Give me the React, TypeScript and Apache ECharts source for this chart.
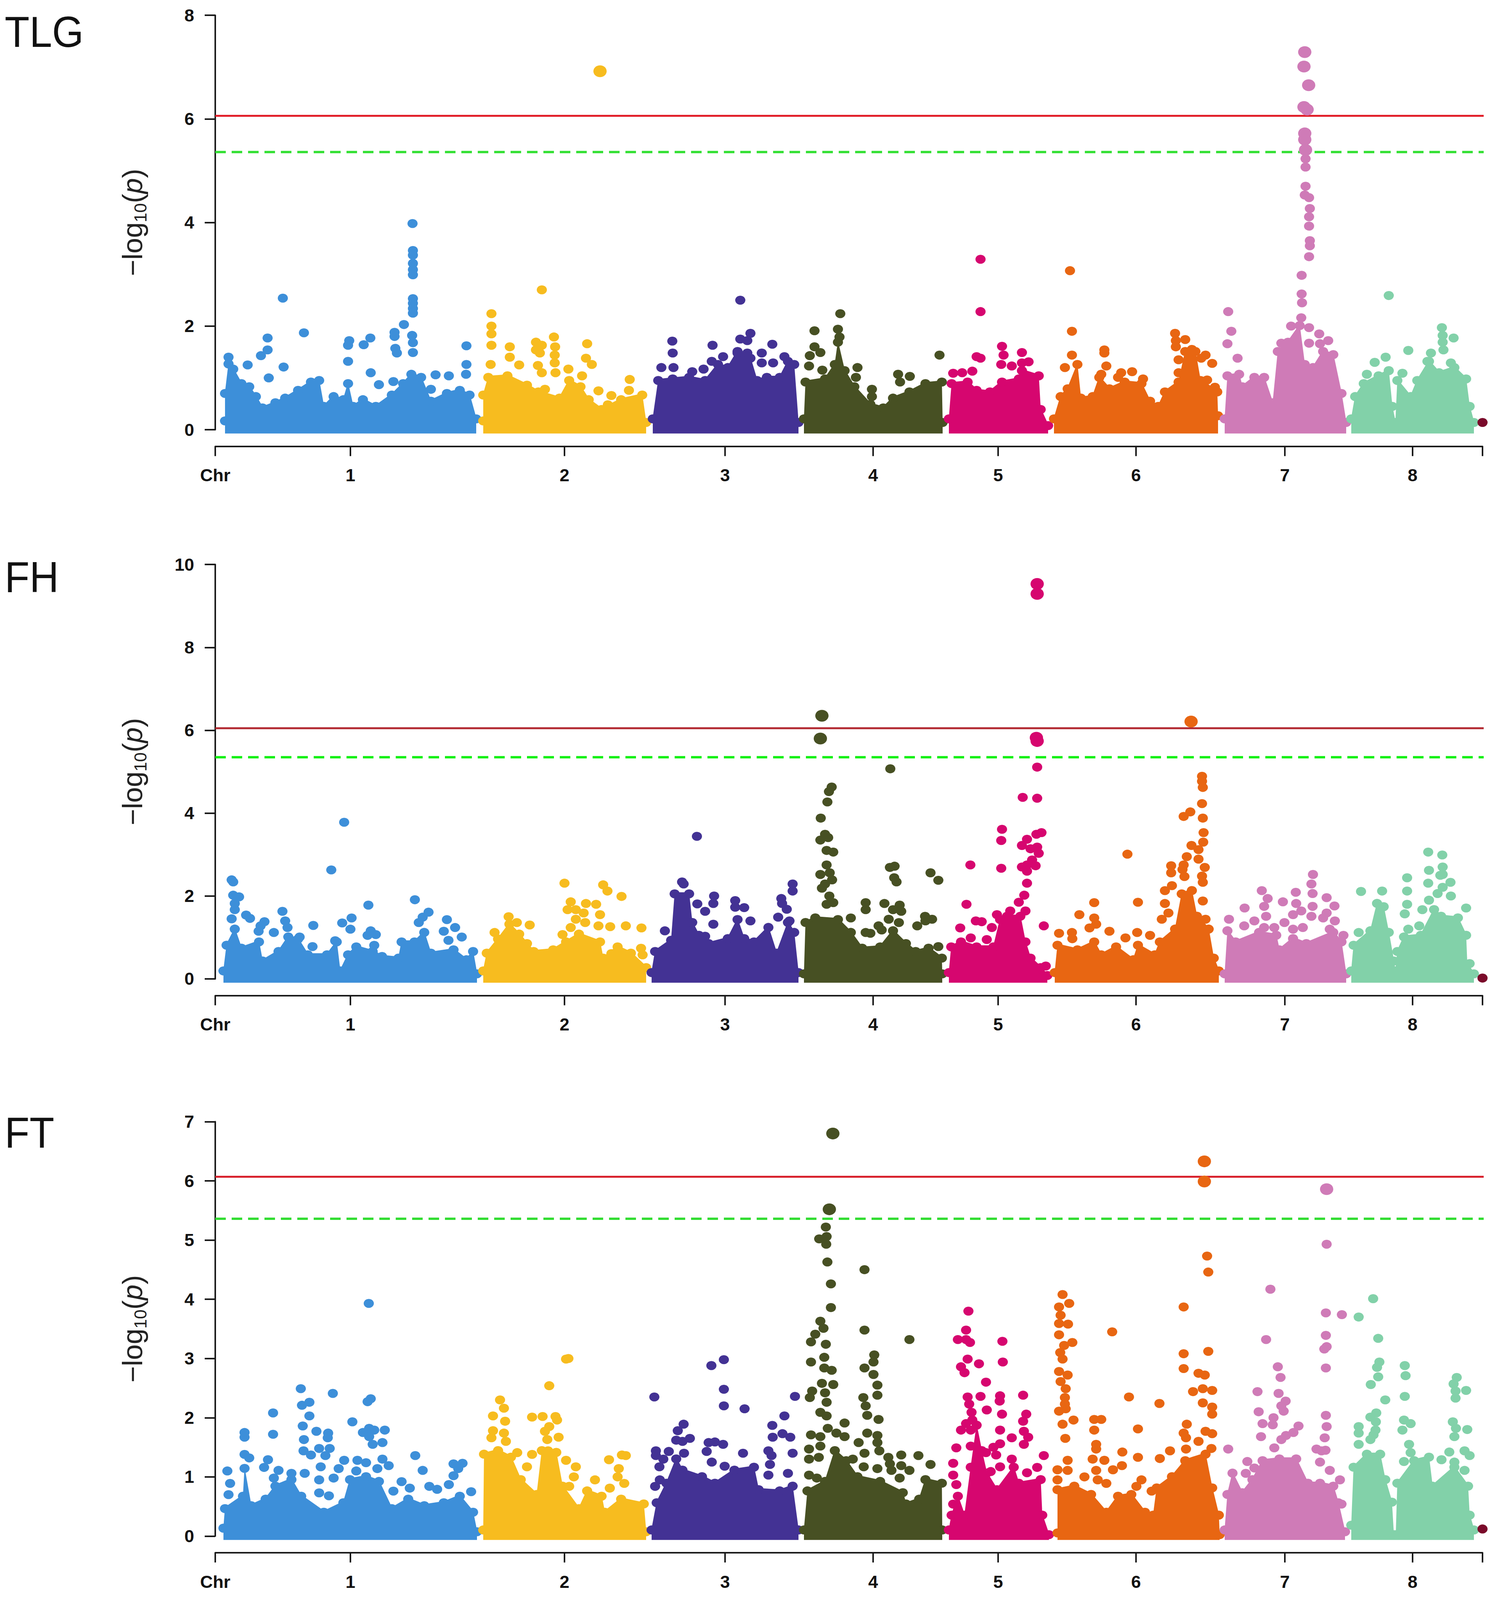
import { useEffect, useRef } from 'react';
import * as echarts from 'echarts';

type Pt = [number, number];

// x = position along the genome axis, y = -log10(p), both.
// "mass" traces the top of the solid block of overlapping SNPs per chromosome,
// "dots" are the separately visible SNPs above it.
const chrColors = ['#3d8fd9', '#f7bc1f', '#433294', '#475023', '#d6066f', '#e86612', '#cf7bb7', '#82d1a9', '#7a0a2a'];
const chrTicks = [0, 346, 894, 1305, 1684, 2004, 2357, 2738, 3065, 3244];
const chrLabels = ['Chr', '1', '2', '3', '4', '5', '6', '7', '8', ''];

const tlgMass: Pt[][] = [
  [[25, .2], [25, .73], [34, 1.3], [46, 1.2], [67, .92], [87, .86], [104, .67], [121, .45], [154, .55], [179, .64], [212, .79], [245, .95], [266, .98], [278, .48], [303, .67], [328, .61], [340, .92], [353, .48], [378, .61], [411, .48], [452, .7], [481, .92], [502, 1.1], [527, 1.04], [552, .58], [593, .73], [626, .79], [651, .7], [668, .24]],
  [[686, .2], [686, .7], [699, 1.04], [748, 1.07], [798, .89], [827, .76], [881, .64], [906, .98], [935, .86], [956, .61], [989, .42], [1039, .61], [1093, .7], [1103, .17]],
  [[1120, .24], [1134, .98], [1171, 1.01], [1213, 1.04], [1254, .98], [1287, 1.29], [1312, 1.23], [1337, 1.54], [1370, 1.41], [1387, .98], [1412, 1.04], [1445, 1.04], [1466, 1.35], [1482, 1.29], [1493, .17]],
  [[1507, .24], [1511, .95], [1561, 1.01], [1586, 1.29], [1594, 1.72], [1611, 1.17], [1636, .86], [1677, .52], [1710, .45], [1735, .64], [1777, .76], [1818, .92], [1860, .95], [1862, .17]],
  [[1878, .24], [1885, .92], [1926, .95], [1949, .79], [1983, .76], [2014, .95], [2057, 1.01], [2065, 1.17], [2108, 1.07], [2113, .42], [2132, .11]],
  [[2147, .24], [2164, .67], [2182, .82], [2207, 1.29], [2216, .64], [2246, .67], [2263, 1.04], [2289, .82], [2328, .95], [2371, .92], [2393, .58], [2414, .48], [2431, .76], [2466, .95], [2483, 1.54], [2509, 1.54], [2522, .98], [2565, .76], [2567, .3]],
  [[2584, .24], [2591, 1.07], [2621, 1.1], [2629, .86], [2660, 1.04], [2685, 1.04], [2707, .55], [2720, 1.54], [2746, 1.72], [2776, 2.04], [2789, 1.29], [2810, 1.23], [2836, 1.54], [2862, 1.48], [2883, .73], [2895, .17]],
  [[2908, .24], [2918, .67], [2940, .92], [2978, 1.07], [3004, 1.17], [3013, .48], [3021, .17], [3026, .98], [3060, .67], [3077, .98], [3107, 1.35], [3133, 1.13], [3172, 1.23], [3202, 1.01], [3211, .48], [3222, .17]],
];
const tlgDots: Pt[][] = [
  [[505, 3.98], [506, 3.46], [506, 3.37], [506, 3.21], [506, 3.09], [506, 2.99], [506, 2.53], [506, 2.44], [506, 2.34], [506, 2.25], [483, 2.03], [173, 2.54], [227, 1.87], [134, 1.77], [134, 1.54], [117, 1.43], [175, 1.21], [137, 1.0], [343, 1.72], [340, 1.63], [340, 1.32], [380, 1.64], [397, 1.77], [459, 1.88], [459, 1.8], [461, 1.57], [465, 1.48], [504, 1.82], [506, 1.68], [506, 1.49], [643, 1.62], [643, 1.26], [642, 1.07], [419, .87], [564, 1.06], [83, 1.25], [34, 1.4], [398, 1.1], [456, .93], [552, .78], [598, 1.04]],
  [[985, 6.92], [836, 2.7], [707, 2.24], [707, 2.0], [707, 1.85], [707, 1.63], [754, 1.6], [754, 1.4], [821, 1.69], [836, 1.63], [821, 1.54], [831, 1.48], [867, 1.79], [870, 1.6], [869, 1.44], [869, 1.29], [952, 1.66], [949, 1.38], [964, 1.26], [778, 1.25], [826, 1.24], [904, 1.17], [836, 1.1], [871, 1.1], [1061, .97], [1059, .76], [705, 1.26], [939, 1.04], [844, .78], [981, .75], [1014, .66], [1005, .48]],
  [[1344, 2.5], [1170, 1.71], [1171, 1.48], [1142, 1.2], [1173, 1.2], [1273, 1.63], [1370, 1.86], [1344, 1.75], [1362, 1.72], [1426, 1.65], [1337, 1.48], [1399, 1.48], [1300, 1.41], [1362, 1.48], [1271, 1.32], [1457, 1.41], [1399, 1.29], [1428, 1.29], [1221, 1.12], [1250, 1.17]],
  [[1600, 2.24], [1534, 1.91], [1594, 1.94], [1598, 1.79], [1534, 1.6], [1549, 1.49], [1522, 1.43], [1520, 1.23], [1854, 1.44], [1748, 1.07], [1753, .92], [1778, 1.03], [1681, .78], [1681, .64], [1554, 1.15], [1640, 1.01], [1644, 1.2]],
  [[1959, 3.29], [1959, 2.28], [2014, 1.61], [2018, 1.44], [2012, 1.26], [2065, 1.49], [2065, 1.29], [2082, 1.31], [2039, 1.23], [1959, 1.38], [1889, 1.09], [1912, 1.1], [1938, 1.13], [1949, 1.41]],
  [[2188, 3.07], [2193, 1.9], [2193, 1.44], [2276, 1.54], [2276, 1.48], [2175, 1.2], [2457, 1.86], [2459, 1.72], [2483, 1.74], [2459, 1.6], [2466, 1.35], [2500, 1.55], [2535, 1.44], [2524, 1.38], [2552, 1.28], [2347, 1.12], [2319, 1.1], [2311, 1.01], [2281, 1.23], [2268, 1.07], [2375, .98], [2539, .96], [2559, .82], [2466, 1.1]],
  [[2789, 7.29], [2787, 7.01], [2799, 6.65], [2787, 6.23], [2795, 6.18], [2789, 5.72], [2789, 5.6], [2791, 5.4], [2791, 5.23], [2791, 5.07], [2791, 4.7], [2789, 4.53], [2800, 4.48], [2802, 4.27], [2800, 4.11], [2800, 3.93], [2802, 3.65], [2802, 3.55], [2800, 3.34], [2781, 2.98], [2781, 2.62], [2782, 2.45], [2780, 2.16], [2754, 2.0], [2593, 2.28], [2601, 1.9], [2591, 1.66], [2617, 1.38], [2800, 1.97], [2826, 1.85], [2800, 1.67], [2729, 1.67], [2849, 1.72], [2828, 1.66]],
  [[3004, 2.59], [3140, 1.97], [3142, 1.82], [3142, 1.69], [3170, 1.77], [3054, 1.53], [3144, 1.54], [3112, 1.48], [2996, 1.4], [2968, 1.3], [3163, 1.29], [3103, 1.32], [3039, 1.09], [2948, 1.07]],
  [[3244, .14]],
];

const fhMass: Pt[][] = [
  [[21, .23], [29, .85], [50, 1.24], [67, .78], [112, .93], [121, .47], [162, .7], [187, 1.05], [212, 1.0], [237, .62], [286, .62], [311, .93], [320, .23], [340, .62], [361, .81], [403, .7], [427, .58], [469, .54], [477, .93], [510, .93], [535, 1.16], [552, .66], [610, .74], [643, .5], [660, .7], [670, .16]],
  [[686, .23], [695, .66], [724, 1.0], [753, 1.36], [778, 1.12], [798, .89], [815, .7], [865, .74], [898, .93], [931, 1.12], [985, .93], [993, .54], [1030, .81], [1064, .66], [1103, .31]],
  [[1117, .19], [1126, .7], [1167, .97], [1176, 2.09], [1213, 2.09], [1221, 1.4], [1238, 1.09], [1263, .89], [1312, 1.01], [1337, 1.47], [1354, 1.01], [1379, .93], [1416, 1.28], [1437, .66], [1466, 1.4], [1482, 1.16], [1493, .19]],
  [[1507, .16], [1511, 1.4], [1536, 1.51], [1594, 1.47], [1627, 1.16], [1656, .78], [1702, .81], [1735, 1.2], [1768, .89], [1793, .7], [1826, .78], [1860, .54], [1861, .16]],
  [[1878, .19], [1884, .81], [1909, .93], [1949, .81], [1992, .81], [2009, 1.47], [2027, 1.55], [2061, 1.55], [2074, .93], [2087, .54], [2113, .31], [2130, .12]],
  [[2149, .19], [2156, .85], [2207, .74], [2250, .93], [2268, .62], [2306, .81], [2350, .5], [2362, .85], [2405, .62], [2418, .93], [2457, 1.24], [2474, 2.09], [2500, 2.17], [2513, 1.55], [2543, 1.24], [2556, .54], [2569, .23]],
  [[2584, .16], [2591, 1.2], [2612, .93], [2672, 1.16], [2716, 1.09], [2724, .74], [2759, 1.01], [2793, .89], [2862, 1.16], [2883, .93], [2895, .16]],
  [[2908, .23], [2914, .85], [2957, 1.2], [2974, 1.86], [2991, 1.78], [3004, 1.16], [3017, .47], [3021, .23], [3026, .7], [3043, 1.05], [3086, 1.09], [3120, 1.71], [3138, 1.55], [3181, 1.51], [3202, 1.09], [3205, .39], [3222, .16]],
];
const fhDots: Pt[][] = [
  [[330, 3.78], [297, 2.63], [42, 2.39], [46, 2.34], [46, 2.02], [61, 1.98], [50, 1.82], [50, 1.67], [511, 1.91], [392, 1.78], [42, 1.45], [79, 1.54], [89, 1.46], [172, 1.63], [179, 1.4], [185, 1.24], [126, 1.38], [116, 1.28], [111, 1.15], [150, 1.12], [251, 1.29], [325, 1.35], [349, 1.47], [346, 1.2], [546, 1.61], [531, 1.49], [521, 1.36], [593, 1.43], [614, 1.24], [585, 1.15], [631, 1.01], [390, 1.05], [398, 1.16], [411, 1.07], [407, .81], [307, .92], [216, 1.01], [249, .78], [597, .93]],
  [[894, 2.31], [993, 2.27], [1004, 2.12], [1040, 1.99], [910, 1.86], [949, 1.82], [975, 1.8], [902, 1.67], [923, 1.67], [943, 1.59], [985, 1.55], [923, 1.44], [947, 1.36], [981, 1.28], [1011, 1.26], [1051, 1.28], [1091, 1.23], [805, 1.3], [751, 1.5], [772, 1.36], [715, 1.12], [910, 1.24], [889, 1.07], [1014, .61], [1090, .74], [1094, .58]],
  [[1233, 3.44], [1195, 2.34], [1199, 2.29], [1478, 2.29], [1478, 2.12], [1277, 2.0], [1275, 1.82], [1331, 1.89], [1331, 1.73], [1354, 1.72], [1449, 1.94], [1451, 1.82], [1463, 1.68], [1234, 1.81], [1254, 1.63], [1151, 1.16], [1370, 1.4], [1275, 1.32], [1470, 1.4], [1254, 1.03], [1441, 1.49]],
  [[1553, 6.35], [1549, 5.8], [1728, 5.07], [1578, 4.63], [1571, 4.52], [1567, 4.27], [1550, 3.88], [1561, 3.49], [1569, 3.41], [1549, 3.35], [1565, 3.1], [1582, 3.06], [1565, 2.75], [1549, 2.52], [1573, 2.56], [1579, 2.39], [1561, 2.29], [1553, 2.19], [1572, 2.0], [1582, 1.84], [1565, 1.8], [1739, 2.72], [1727, 2.69], [1738, 2.44], [1744, 2.34], [1831, 2.56], [1851, 2.38], [1665, 1.84], [1665, 1.67], [1713, 1.82], [1752, 1.78], [1735, 1.67], [1756, 1.63], [1627, 1.47], [1724, 1.44], [1750, 1.36], [1817, 1.51], [1835, 1.44], [1797, 1.28], [1818, 1.4], [1698, 1.28], [1706, 1.18], [1665, 1.12], [1677, 1.1], [1851, .78]],
  [[1933, 2.75], [1923, 1.8], [1947, 1.4], [1907, 1.23], [1934, .99], [2104, 9.53], [2104, 9.29], [2102, 5.82], [2104, 5.74], [2104, 5.11], [2067, 4.38], [2104, 4.36], [2014, 3.61], [2115, 3.53], [2102, 3.49], [2012, 3.34], [2078, 3.37], [2065, 3.22], [2104, 3.18], [2087, 3.14], [2108, 3.03], [2091, 2.87], [2078, 2.75], [2065, 2.7], [2012, 2.67], [2100, 2.73], [2078, 2.6], [2078, 2.31], [2071, 2.02], [2057, 1.85], [2074, 1.64], [2035, 1.64], [2001, 1.55], [2121, 1.28], [1962, 1.38], [1988, 1.24], [2126, .31], [1975, .95], [2102, .04]],
  [[2498, 6.21], [2526, 4.89], [2526, 4.77], [2528, 4.62], [2526, 4.23], [2496, 4.03], [2479, 3.92], [2528, 3.88], [2530, 3.53], [2529, 3.3], [2499, 3.22], [2517, 3.12], [2335, 3.01], [2487, 2.95], [2517, 2.89], [2447, 2.73], [2447, 2.56], [2479, 2.75], [2476, 2.64], [2533, 2.69], [2526, 2.48], [2528, 2.33], [2481, 2.47], [2449, 2.25], [2431, 2.13], [2362, 1.85], [2528, 1.88], [2250, 1.84], [2431, 1.82], [2212, 1.55], [2250, 1.47], [2255, 1.32], [2238, 1.23], [2289, 1.15], [2360, 1.12], [2330, .99], [2193, 1.12], [2194, .97], [2160, 1.1], [2393, 1.05], [2535, 1.44], [2423, 1.44], [2440, 1.59]],
  [[2810, 2.52], [2806, 2.29], [2809, 2.06], [2679, 2.13], [2766, 2.09], [2694, 1.94], [2845, 1.96], [2635, 1.71], [2733, 1.86], [2767, 1.82], [2685, 1.75], [2865, 1.76], [2809, 1.75], [2806, 1.51], [2845, 1.59], [2836, 1.47], [2780, 1.64], [2759, 1.55], [2737, 1.36], [2595, 1.44], [2866, 1.4], [2690, 1.51], [2660, 1.4], [2634, 1.28], [2711, 1.24], [2784, 1.24], [2853, 1.2], [2888, 1.05], [2685, 1.24], [2759, 1.2]],
  [[3105, 3.06], [3141, 2.99], [3142, 2.7], [3107, 2.62], [3142, 2.52], [3136, 2.5], [3051, 2.44], [3105, 2.31], [3162, 2.33], [2933, 2.11], [2987, 2.12], [3051, 2.12], [3142, 2.21], [3129, 2.06], [3051, 1.8], [3045, 1.57], [3090, 1.67], [3202, 1.71], [3163, 2.0], [3107, 1.9], [3054, 1.2], [3082, 1.28], [2927, 1.12], [3211, .37]],
  [[3244, .02]],
];

const ftMass: Pt[][] = [
  [[21, .16], [25, .49], [71, .7], [75, 1.17], [92, .54], [129, .65], [154, .87], [195, .98], [220, .7], [278, .43], [328, .59], [345, .98], [386, 1.03], [419, .95], [452, .49], [494, .65], [535, .54], [585, .59], [626, .7], [660, .43], [670, .1]],
  [[686, .13], [688, 1.41], [724, 1.47], [757, 1.36], [782, .98], [823, .73], [836, 1.47], [873, 1.44], [889, .87], [931, .49], [952, .79], [989, .7], [997, .43], [1039, .65], [1097, .57], [1103, .1]],
  [[1117, .13], [1130, .59], [1155, .92], [1180, 1.33], [1196, 1.14], [1246, 1.03], [1279, .92], [1329, 1.14], [1379, 1.19], [1391, .81], [1445, .79], [1478, .87], [1493, .13]],
  [[1507, .13], [1516, .79], [1561, .95], [1586, 1.47], [1615, 1.3], [1644, 1.03], [1702, .95], [1760, .76], [1768, .57], [1802, .65], [1818, .98], [1860, .92], [1861, .13]],
  [[1878, .13], [1885, .38], [1901, .7], [1918, .38], [1934, 1.19], [1949, 1.9], [1962, 1.47], [1975, 1.09], [2001, .81], [2044, 1.19], [2057, .92], [2113, .98], [2117, .38], [2134, .05]],
  [[2156, .08], [2156, .81], [2199, .87], [2242, .73], [2281, .43], [2311, .7], [2345, .73], [2380, .43], [2401, .38], [2410, .84], [2449, 1.03], [2483, 1.3], [2535, 1.41], [2552, .84], [2569, .38], [2571, .05]],
  [[2584, .13], [2591, .73], [2604, 1.09], [2629, .76], [2655, .98], [2681, 1.3], [2724, 1.33], [2767, 1.33], [2797, .92], [2828, .92], [2862, .87], [2875, .59], [2892, .1]],
  [[2908, .21], [2914, 1.19], [2948, 1.41], [2982, 1.41], [2995, .98], [3012, .6], [3017, .05], [3022, .05], [3026, .92], [3069, 1.3], [3107, 1.36], [3116, .87], [3172, 1.19], [3207, .87], [3211, .38], [3222, .13]],
];
const ftDots: Pt[][] = [
  [[393, 3.93], [219, 2.49], [301, 2.41], [398, 2.32], [390, 2.27], [241, 2.26], [222, 2.21], [148, 2.08], [241, 2.03], [351, 1.93], [224, 1.86], [434, 1.79], [75, 1.75], [75, 1.67], [259, 1.77], [289, 1.74], [288, 1.66], [148, 1.72], [227, 1.63], [378, 1.75], [394, 1.82], [407, 1.79], [394, 1.68], [428, 1.58], [403, 1.55], [266, 1.48], [293, 1.48], [226, 1.44], [245, 1.37], [282, 1.36], [75, 1.38], [87, 1.32], [135, 1.29], [512, 1.36], [428, 1.3], [330, 1.28], [364, 1.28], [386, 1.24], [125, 1.16], [31, 1.1], [444, 1.19], [610, 1.22], [633, 1.23], [531, 1.11], [162, 1.11], [316, 1.14], [415, 1.14], [270, 1.17], [38, .89], [229, 1.06], [361, 1.1], [622, 1.14], [610, 1.02], [195, 1.06], [150, .98], [303, .98], [266, .95], [34, .7], [477, .92], [498, .81], [548, .84], [266, .73], [291, .68], [456, .76], [598, .87], [655, .75], [568, .79]],
  [[898, 2.99], [904, 3.0], [855, 2.54], [729, 2.3], [739, 2.16], [711, 2.03], [811, 2.01], [838, 2.02], [871, 2.02], [875, 1.96], [742, 1.94], [855, 1.85], [844, 1.77], [711, 1.78], [739, 1.74], [879, 1.67], [850, 1.63], [744, 1.6], [707, 1.66], [1041, 1.37], [1051, 1.36], [1008, 1.29], [773, 1.41], [852, 1.44], [898, 1.28], [923, 1.17], [811, 1.38], [1033, 1.14], [972, .95], [1030, 1.0], [1047, .89], [918, 1.0], [1010, .81], [798, 1.17], [906, .84]],
  [[1302, 2.98], [1270, 2.88], [1302, 2.48], [1124, 2.35], [1484, 2.36], [1302, 2.2], [1355, 2.15], [1457, 2.03], [1199, 1.89], [1426, 1.87], [1184, 1.78], [1452, 1.73], [1427, 1.67], [1472, 1.67], [1196, 1.6], [1215, 1.65], [1180, 1.62], [1263, 1.58], [1279, 1.59], [1300, 1.55], [1258, 1.43], [1128, 1.44], [1161, 1.43], [1478, 1.4], [1200, 1.4], [1351, 1.4], [1416, 1.44], [1128, 1.36], [1424, 1.36], [1420, 1.21], [1147, 1.3], [1271, 1.25], [1304, 1.18], [1137, 1.17], [1466, 1.06], [1138, .95], [1126, .84], [1416, 1.03]],
  [[1581, 6.8], [1572, 5.52], [1563, 5.22], [1546, 5.02], [1565, 5.06], [1564, 4.93], [1567, 4.63], [1662, 4.5], [1576, 4.26], [1576, 3.86], [1549, 3.63], [1557, 3.51], [1662, 3.48], [1536, 3.41], [1777, 3.32], [1525, 3.28], [1563, 3.24], [1687, 3.06], [1559, 3.02], [1685, 2.94], [1525, 2.94], [1559, 2.84], [1578, 2.8], [1662, 2.84], [1685, 2.73], [1553, 2.58], [1582, 2.56], [1695, 2.55], [1695, 2.38], [1528, 2.45], [1522, 2.34], [1561, 2.42], [1565, 2.26], [1659, 2.34], [1665, 2.2], [1669, 2.04], [1549, 2.09], [1565, 2.03], [1698, 1.97], [1611, 1.91], [1568, 1.82], [1669, 1.74], [1695, 1.7], [1525, 1.71], [1549, 1.68], [1590, 1.74], [1611, 1.68], [1647, 1.58], [1695, 1.58], [1549, 1.52], [1520, 1.47], [1700, 1.44], [1662, 1.4], [1800, 1.36], [1756, 1.37], [1723, 1.33], [1545, 1.33], [1520, 1.3], [1831, 1.21], [1727, 1.22], [1756, 1.19], [1632, 1.3], [1660, 1.17], [1695, 1.14], [1731, 1.11], [1777, 1.11], [1520, 1.03], [1540, .98], [1752, .98]],
  [[1928, 3.8], [1922, 3.48], [1901, 3.32], [1922, 3.32], [1932, 3.27], [1926, 2.99], [1909, 2.86], [1918, 2.76], [1926, 2.35], [1930, 2.23], [1936, 2.09], [1938, 1.96], [1922, 1.9], [1909, 1.79], [1934, 1.79], [1897, 1.49], [1889, 1.23], [1934, 1.52], [1889, 1.03], [1897, .87], [1889, .54], [2015, 3.29], [2016, 2.94], [1955, 2.91], [1973, 2.6], [1959, 2.36], [2009, 2.37], [2068, 2.38], [2008, 2.28], [1975, 2.13], [2014, 2.06], [2076, 2.06], [2068, 1.94], [2009, 1.79], [2070, 1.77], [2081, 1.67], [2039, 1.66], [2070, 1.55], [2009, 1.56], [1992, 1.5], [1973, 1.41], [1999, 1.37], [2121, 1.36], [2039, 1.3], [2009, 1.17], [2104, 1.16], [2078, 1.07], [1985, 1.09]],
  [[2532, 6.33], [2532, 5.99], [2539, 4.73], [2542, 4.46], [2169, 4.08], [2186, 3.93], [2160, 3.87], [2479, 3.87], [2164, 3.73], [2160, 3.59], [2183, 3.58], [2296, 3.45], [2160, 3.4], [2194, 3.27], [2173, 3.22], [2163, 3.1], [2542, 3.12], [2479, 3.08], [2169, 2.99], [2479, 2.83], [2160, 2.78], [2182, 2.72], [2517, 2.75], [2533, 2.72], [2164, 2.61], [2177, 2.49], [2528, 2.49], [2552, 2.46], [2503, 2.44], [2175, 2.34], [2339, 2.35], [2528, 2.25], [2417, 2.24], [2175, 2.23], [2160, 2.11], [2177, 2.15], [2552, 2.18], [2552, 2.06], [2250, 1.97], [2268, 1.97], [2250, 1.79], [2169, 1.89], [2197, 1.96], [2487, 1.89], [2362, 1.81], [2176, 1.65], [2479, 1.74], [2535, 1.77], [2552, 1.73], [2485, 1.66], [2255, 1.55], [2255, 1.47], [2322, 1.42], [2517, 1.6], [2550, 1.48], [2444, 1.44], [2485, 1.47], [2362, 1.33], [2418, 1.31], [2182, 1.28], [2246, 1.3], [2276, 1.28], [2156, 1.12], [2182, 1.11], [2321, 1.19], [2298, 1.12], [2255, 1.11], [2156, .95], [2225, 1.0], [2259, .95], [2281, .89], [2371, .95], [2397, .76], [2358, .84]],
  [[2845, 5.86], [2845, 4.93], [2701, 4.17], [2843, 3.77], [2884, 3.74], [2690, 3.32], [2843, 3.39], [2845, 3.2], [2839, 3.16], [2843, 2.84], [2720, 2.86], [2727, 2.68], [2668, 2.44], [2722, 2.41], [2740, 2.28], [2729, 2.2], [2735, 2.11], [2671, 2.1], [2843, 2.04], [2709, 2.0], [2681, 1.9], [2773, 1.86], [2845, 1.85], [2707, 1.88], [2760, 1.75], [2840, 1.66], [2741, 1.7], [2729, 1.63], [2593, 1.47], [2819, 1.47], [2842, 1.45], [2832, 1.44], [2711, 1.49], [2642, 1.26], [2828, 1.25], [2660, 1.15], [2677, 1.68], [2853, 1.11], [2879, .95], [2638, 1.06], [2883, .54]],
  [[2964, 4.01], [2927, 3.7], [2977, 3.34], [2980, 2.94], [2974, 2.85], [3045, 2.88], [3047, 2.71], [2977, 2.69], [3178, 2.68], [2958, 2.56], [3170, 2.57], [3202, 2.46], [3175, 2.45], [3175, 2.33], [3045, 2.36], [2995, 2.3], [2972, 2.08], [2957, 2.01], [3043, 1.96], [2971, 1.93], [2927, 1.85], [3168, 1.93], [3060, 1.9], [2970, 1.79], [2927, 1.74], [3176, 1.82], [3205, 1.8], [3039, 1.79], [2965, 1.71], [3172, 1.68], [2927, 1.55], [3056, 1.55], [2957, 1.63], [3060, 1.41], [3159, 1.42], [3198, 1.44], [3211, 1.36], [3139, 1.29], [3172, 1.25], [3043, 1.26], [3198, 1.11]],
  [[3244, .12]],
];

const font = '"Liberation Sans", Arial, sans-serif';
const panels = [
  { title: 'TLG', mass: tlgMass, dots: tlgDots, top: 44, yMax: 8, interval: 2, red: 6.06, green: 5.36, redColor: '#e2202a', greenColor: '#33e033', titleY: 30 },
  { title: 'FH', mass: fhMass, dots: fhDots, top: 1625, yMax: 10, interval: 2, red: 6.05, green: 5.35, redColor: '#b32a32', greenColor: '#0ef00e', titleY: 1599 },
  { title: 'FT', mass: ftMass, dots: ftDots, top: 3229, yMax: 7, interval: 1, red: 6.07, green: 5.36, redColor: '#d8222e', greenColor: '#33dd33', titleY: 3199 },
];
const gridH = 1193;
const designH = 4606;

// The browser window tops out at 4096px high, so the layout is squeezed vertically
// to whatever the window really offers; otherwise the third panel's axis falls off the page.
function buildOption(pageH: number) {
  const k = pageH / designH;
  const grid: any[] = [];
  const xAxis: any[] = [];
  const yAxis: any[] = [];
  const series: any[] = [];
  const graphic: any[] = [];
  panels.forEach((p, i) => {
    grid.push({ left: 551, top: p.top * k, width: 3244, height: gridH * k, containLabel: false });
    const line = { show: true, lineStyle: { color: '#1a1a1a', width: 4 } };
    xAxis.push({
      type: 'value', gridIndex: i, min: 0, max: 3244, offset: 48 * k, position: 'bottom',
      splitLine: { show: false },
      axisLine: { ...line, onZero: false },
      axisTick: { show: true, length: 28 * k, lineStyle: { color: '#1a1a1a', width: 4 }, customValues: chrTicks },
      axisLabel: {
        show: true, margin: 58 * k, fontSize: 45, fontWeight: 'bold', fontFamily: font, color: '#111',
        customValues: chrTicks,
        formatter: (v: number) => chrLabels[chrTicks.indexOf(v)] ?? '',
      },
    });
    yAxis.push({
      type: 'value', gridIndex: i, min: 0, max: p.yMax, interval: p.interval,
      splitLine: { show: false },
      axisLine: { ...line, onZero: false },
      axisTick: { show: true, length: 27, lineStyle: { color: '#1a1a1a', width: 4 } },
      axisLabel: { margin: 54, fontSize: 45, fontWeight: 'bold', fontFamily: font, color: '#111' },
      name: '{n|\u2212log}{s|10}{n|(}{i|p}{n|)}',
      nameLocation: 'middle', nameRotate: 90, nameGap: 170,
      nameTextStyle: {
        rich: {
          n: { fontSize: 72, fontFamily: font, color: '#222', lineHeight: 84 },
          s: { fontSize: 44, fontFamily: font, color: '#222', lineHeight: 84, verticalAlign: 'bottom' },
          i: { fontSize: 72, fontFamily: font, color: '#222', fontStyle: 'italic', lineHeight: 84 },
        },
      },
    });
    const perPx = p.yMax / (gridH * k);
    [[p.red, p.redColor, 'solid', 5], [p.green, p.greenColor, [27, 15], 6]].forEach(([v, c, t, w]: any) => {
      series.push({
        type: 'line', xAxisIndex: i, yAxisIndex: i, silent: true, symbol: 'none', clip: false, z: 1,
        lineStyle: { color: c, type: t, width: w },
        data: [[0, v], [3248, v]],
      });
    });
    p.mass.forEach((top, c) => {
      series.push({
        type: 'line', xAxisIndex: i, yAxisIndex: i, silent: true, clip: false, z: 2,
        symbol: 'circle', symbolSize: [26, 26 * k], symbolOffset: [0, 4], showAllSymbol: true,
        itemStyle: { color: chrColors[c] },
        lineStyle: { width: 0, opacity: 0 },
        areaStyle: { color: chrColors[c], opacity: 1, origin: -11 * k * perPx },
        data: top,
      });
    });
    p.dots.forEach((pts, c) => {
      series.push({
        type: 'scatter', xAxisIndex: i, yAxisIndex: i, silent: true, clip: false, z: 3,
        symbol: 'circle', symbolSize: (d: Pt) => (d[1] >= 5.3 ? [34, 34 * k] : [26, 26 * k]),
        itemStyle: { color: chrColors[c], opacity: 1 },
        data: pts,
      });
    });
    graphic.push({
      type: 'text', x: 12, y: p.titleY * k, scaleY: 1.2 * k,
      style: { text: p.title, fontSize: 104, fontFamily: font, fill: '#111' },
    });
  });
  return { animation: false, backgroundColor: '#fff', grid, xAxis, yAxis, series, graphic };
}

export default function App() {
  const chartRef = useRef<HTMLDivElement>(null);
  const pageH = Math.min(window.innerHeight || designH, designH);

  useEffect(() => {
    if (!chartRef.current) return;
    document.body.style.margin = '0';
    const chart = echarts.init(chartRef.current, undefined, { renderer: 'svg' });
    chart.setOption(buildOption(pageH));
    return () => chart.dispose();
  }, [pageH]);

  return <div ref={chartRef} style={{ width: 3850, height: pageH }} />;
}
